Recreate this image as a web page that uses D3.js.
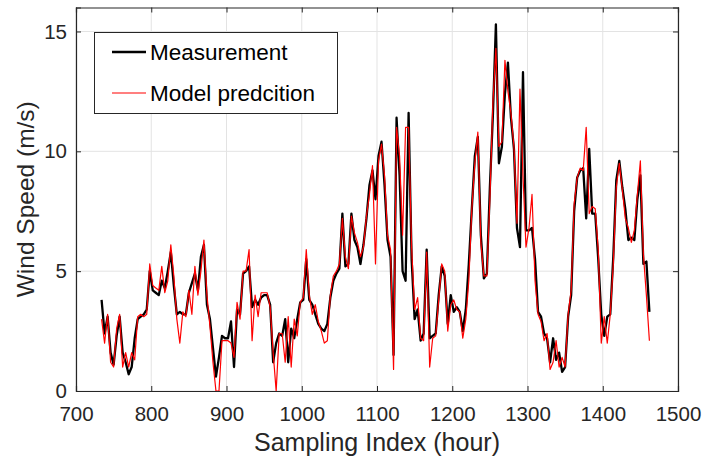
<!DOCTYPE html>
<html><head><meta charset="utf-8">
<script src="https://cdn.jsdelivr.net/npm/d3@7"></script>
<style>
body{margin:0;background:#fff;}
svg{display:block;font-family:Arial,"Liberation Sans",Helvetica,sans-serif;}
</style>
</head><body><svg id="c" width="705" height="457"></svg>
<script>
// sampling index (hour), every 4 hours
const hours = d3.range(734, 1463, 4);
const measurement = [
3.8,2.4,3.1,1.6,1.1,2.3,3.1,1.6,1.2,0.7,
1.0,2.2,3.0,3.1,3.2,3.4,5.0,4.2,4.1,4.0,
4.6,4.3,5.0,5.8,4.4,3.2,3.3,3.2,3.2,4.1,
4.5,4.9,4.2,5.6,6.1,3.6,3.0,1.8,0.6,1.4,
2.3,2.2,2.2,2.9,1.0,3.4,3.2,4.9,5.0,5.2,
3.5,3.8,3.6,3.9,4.0,4.0,3.6,1.2,2.0,2.4,
2.3,3.0,1.2,2.6,2.2,3.0,3.7,3.8,5.5,3.8,
3.6,3.2,2.8,2.6,2.5,2.8,3.9,4.6,4.9,5.1,
7.4,5.2,5.3,7.4,6.3,6.0,5.3,6.1,7.2,8.6,
9.2,8.0,9.8,10.4,8.6,6.3,5.6,1.5,11.4,9.0,
5.0,4.6,11.6,5.5,3.0,3.4,2.1,2.4,5.9,2.2,
2.3,2.4,4.0,5.2,4.8,2.8,4.0,3.3,3.5,3.3,
2.5,3.4,5.3,7.6,9.8,10.6,6.5,4.7,4.9,8.5,
11.5,15.3,9.5,10.2,12.4,13.7,11.4,10.1,6.8,6.0,
13.3,6.7,6.7,6.8,5.5,3.3,3.1,2.4,2.2,1.2,
2.2,1.3,1.6,0.8,1.0,3.1,4.0,7.5,8.9,9.2,
9.3,7.2,10.1,7.4,7.4,5.5,3.2,2.3,3.1,3.2,
5.6,8.8,9.6,8.5,7.6,6.3,6.4,6.3,8.0,9.0,
5.3,5.4,3.3
];
const prediction = [
3.0,2.0,3.2,1.2,1.0,2.6,3.2,1.0,1.6,1.0,
1.6,1.3,3.1,3.2,3.1,3.2,5.3,4.4,4.3,4.2,
5.2,4.1,4.6,6.1,4.8,3.0,2.0,3.3,3.1,4.2,
3.2,5.2,4.0,5.0,6.3,4.0,2.7,1.2,0.0,0.0,
2.1,2.1,2.1,2.0,1.4,3.7,3.0,5.0,5.0,5.9,
2.1,4.0,3.1,4.1,4.1,4.1,3.5,1.6,0.0,2.4,
2.4,1.2,3.1,1.0,3.0,2.3,3.7,3.9,5.9,4.0,
3.2,3.6,2.9,2.5,2.0,2.1,4.0,4.8,5.0,5.3,
7.2,5.6,5.1,7.3,6.6,6.2,5.6,6.0,7.3,8.2,
9.4,5.3,9.6,10.3,9.0,6.5,5.9,0.9,11.0,9.8,
6.5,11.0,11.0,6.0,3.4,3.9,2.2,2.1,5.8,1.0,
2.2,2.3,3.8,5.3,5.0,2.5,3.6,3.8,3.4,3.3,
2.2,3.0,4.6,7.6,9.5,10.8,6.2,4.8,4.8,8.0,
12.0,14.3,10.2,10.4,13.8,12.5,11.6,10.2,7.0,12.6,
9.0,6.0,6.8,8.2,4.6,3.2,2.9,2.1,2.4,0.9,
1.2,2.1,1.0,1.4,1.0,3.2,4.2,7.8,8.9,9.3,
9.2,11.0,7.4,7.7,7.6,5.9,2.0,3.1,2.0,3.2,
5.3,8.5,9.5,8.4,7.2,6.8,6.2,6.7,8.2,9.6,
5.7,4.0,2.1
];
const xTicks = [700,800,900,1000,1100,1200,1300,1400,1500];
const yTicks = [0,5,10,15];
const seriesNames = ["Measurement","Model predcition"];
const seriesColors = ["#000000","#ff0000"];
const xTitle = "Sampling Index (hour)";
const yTitle = "Wind Speed (m/s)";

const W = 705, H = 457;
const m = {left:76, right:27, top:7.5, bottom:66};
const svg = d3.select("#c");
svg.append("rect").attr("width",W).attr("height",H).attr("fill","#fff");

const x = d3.scaleLinear().domain([700,1500]).range([m.left, W-m.right]);
const y = d3.scaleLinear().domain([0,16]).range([H-m.bottom, m.top]);
const axisColor = "#262626";

const g = svg.append("g");
// grid
g.append("g").selectAll("line").data(xTicks).join("line")
  .attr("x1",d=>x(d)).attr("x2",d=>x(d)).attr("y1",y(0)).attr("y2",y(16))
  .attr("stroke","#e3e3e3").attr("stroke-width",1);
g.append("g").selectAll("line").data(yTicks).join("line")
  .attr("y1",d=>y(d)).attr("y2",d=>y(d)).attr("x1",x(700)).attr("x2",x(1500))
  .attr("stroke","#e3e3e3").attr("stroke-width",1);

// series
const dataM = hours.map((h,i)=>[h,measurement[i]]);
const dataP = hours.map((h,i)=>[h,prediction[i]]);
const line = d3.line().x(d=>x(d[0])).y(d=>y(d[1]));
svg.append("clipPath").attr("id","clp").append("rect")
  .attr("x",x(700)).attr("y",y(16)).attr("width",x(1500)-x(700)).attr("height",y(0)-y(16));
const lines = svg.append("g").attr("clip-path","url(#clp)");
lines.append("path").datum(dataM).attr("d",line).attr("fill","none")
  .attr("stroke",seriesColors[0]).attr("stroke-width",2.3).attr("stroke-linejoin","round");
lines.append("path").datum(dataP).attr("d",line).attr("fill","none")
  .attr("stroke",seriesColors[1]).attr("stroke-width",1.2).attr("stroke-linejoin","round");

// axes (ticks inside, all four sides)
const tl = 5;
const axB = svg.append("g").attr("transform",`translate(0,${y(0)})`)
  .call(d3.axisBottom(x).tickValues(xTicks).tickSize(-tl).tickPadding(15).tickFormat(d3.format("d")));
const axT = svg.append("g").attr("transform",`translate(0,${y(16)})`)
  .call(d3.axisTop(x).tickValues(xTicks).tickSize(-tl).tickFormat(""));
const axL = svg.append("g").attr("transform",`translate(${x(700)},0)`)
  .call(d3.axisLeft(y).tickValues(yTicks).tickSize(-tl).tickPadding(9).tickFormat(d3.format("d")));
const axR = svg.append("g").attr("transform",`translate(${x(1500)},0)`)
  .call(d3.axisRight(y).tickValues(yTicks).tickSize(-tl).tickFormat(""));
[axB,axT,axL,axR].forEach(a=>{
  a.select(".domain").attr("stroke",axisColor).attr("stroke-width",1.2);
  a.selectAll(".tick line").attr("stroke",axisColor).attr("stroke-width",1);
  a.selectAll("text").attr("fill",axisColor).attr("font-size",20.5)
   .attr("font-family","Arial, 'Liberation Sans', sans-serif");
});

// axis titles
svg.append("text").attr("x",(x(700)+x(1500))/2).attr("y",451)
  .attr("text-anchor","middle").attr("font-size",25).attr("fill",axisColor).text(xTitle);
svg.append("text").attr("transform",`translate(34,${(y(0)+y(16))/2}) rotate(-90)`)
  .attr("text-anchor","middle").attr("font-size",24.5).attr("fill",axisColor).text(yTitle);

// legend
const lg = svg.append("g");
lg.append("rect").attr("x",94.5).attr("y",32.5).attr("width",243).attr("height",81)
  .attr("fill","#fff").attr("stroke",axisColor).attr("stroke-width",1);
const ly = [52, 93];
seriesNames.forEach((n,i)=>{
  lg.append("line").attr("x1",112).attr("x2",146).attr("y1",ly[i]).attr("y2",ly[i])
    .attr("stroke",seriesColors[i]).attr("stroke-width",i===0?2.3:1.2);
  lg.append("text").attr("x",150).attr("y",ly[i]).attr("dy","0.35em")
    .attr("font-size",22.5).attr("fill","#000").text(n);
});
</script>
</body></html>
